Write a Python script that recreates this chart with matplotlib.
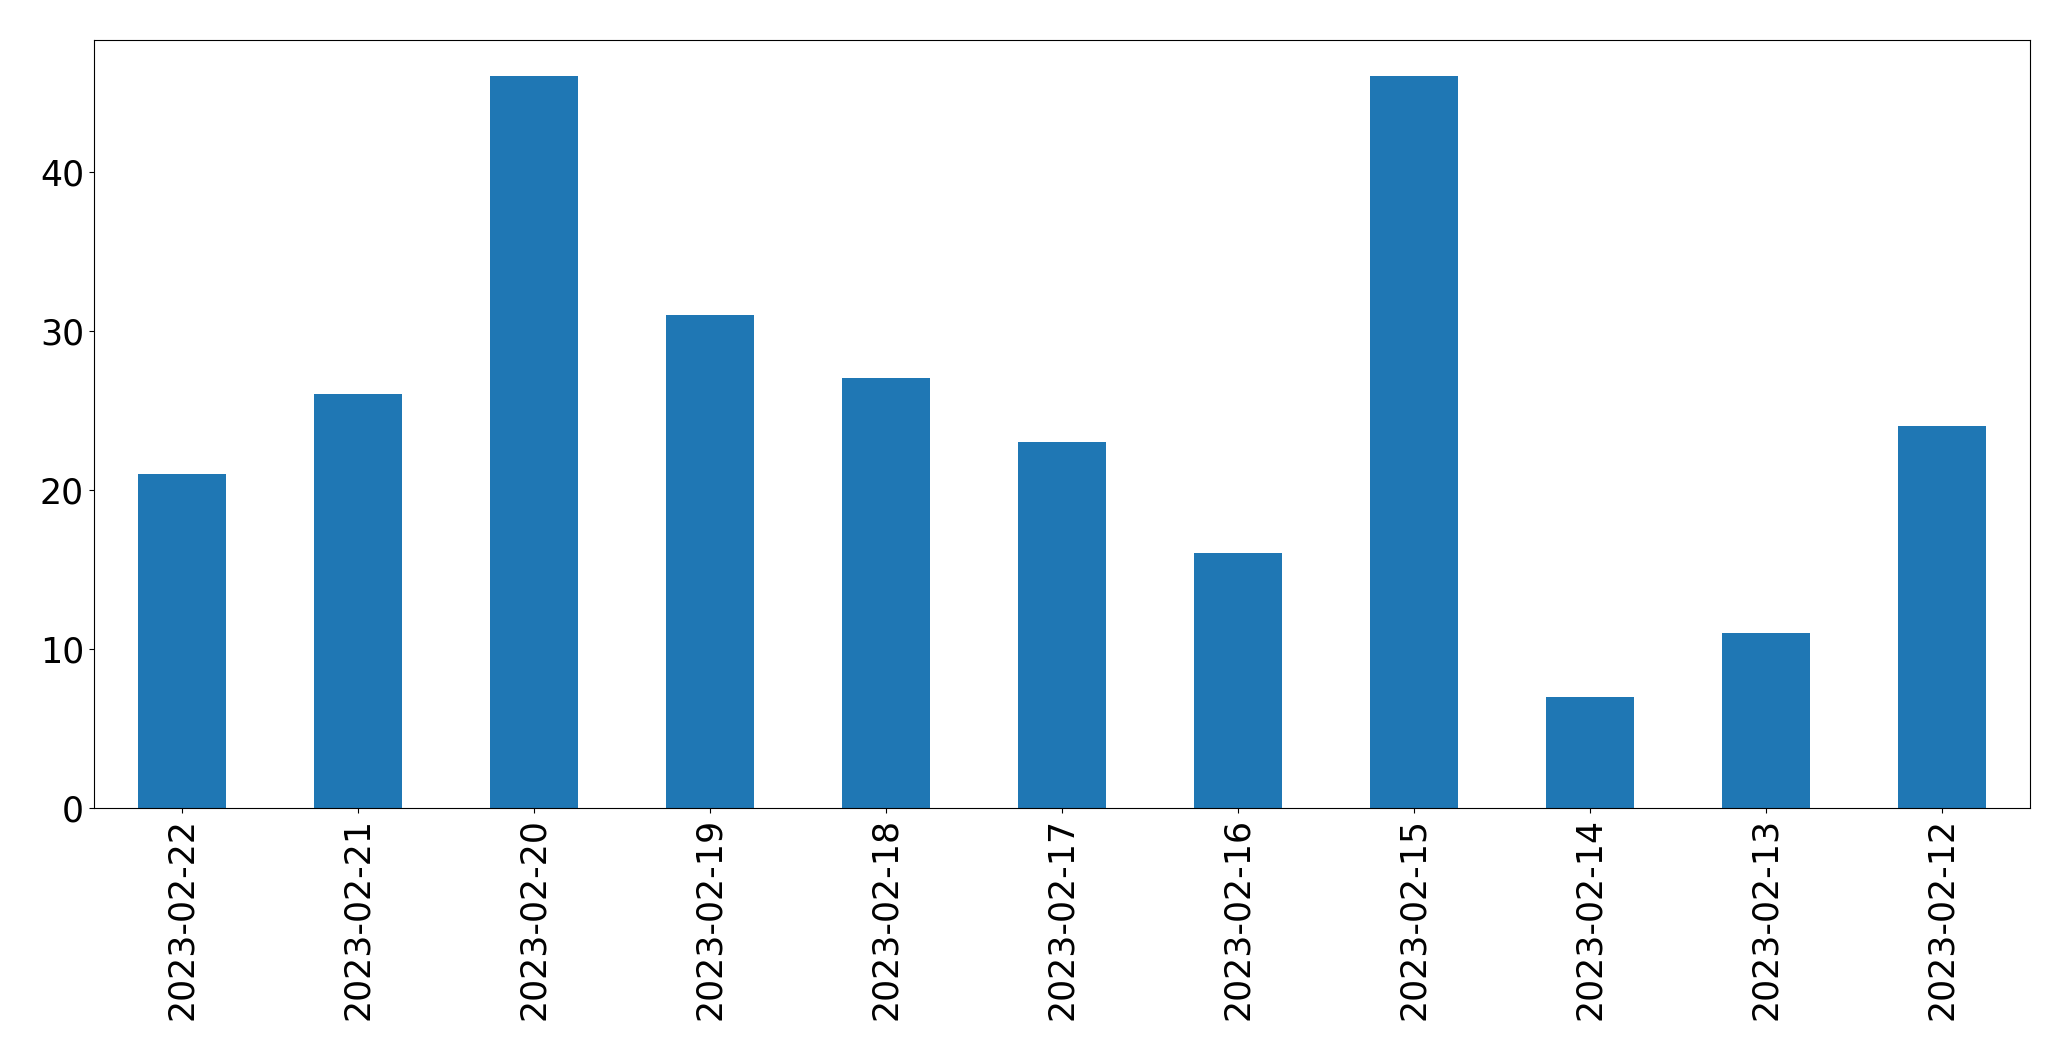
import matplotlib
matplotlib.use("Agg")
import matplotlib.pyplot as plt

dates = ['2023-02-22', '2023-02-21', '2023-02-20', '2023-02-19', '2023-02-18',
         '2023-02-17', '2023-02-16', '2023-02-15', '2023-02-14', '2023-02-13',
         '2023-02-12']
counts = [21, 26, 46, 31, 27, 23, 16, 46, 7, 11, 24]


def main():
    fig, ax = plt.subplots(figsize=(20.71, 10.61), dpi=100)
    fig.subplots_adjust(left=0.0453, right=0.9802, top=0.9627, bottom=0.2385)

    x = range(len(dates))
    ax.bar(x, counts, width=0.5, color='#1f77b4')
    ax.set_xlim(-0.5, len(dates) - 0.5)
    ax.set_xticks(list(x))
    ax.set_xticklabels(dates, rotation=90)
    ax.tick_params(labelsize=25)

    fig.savefig('out.png', dpi=100)


main()
